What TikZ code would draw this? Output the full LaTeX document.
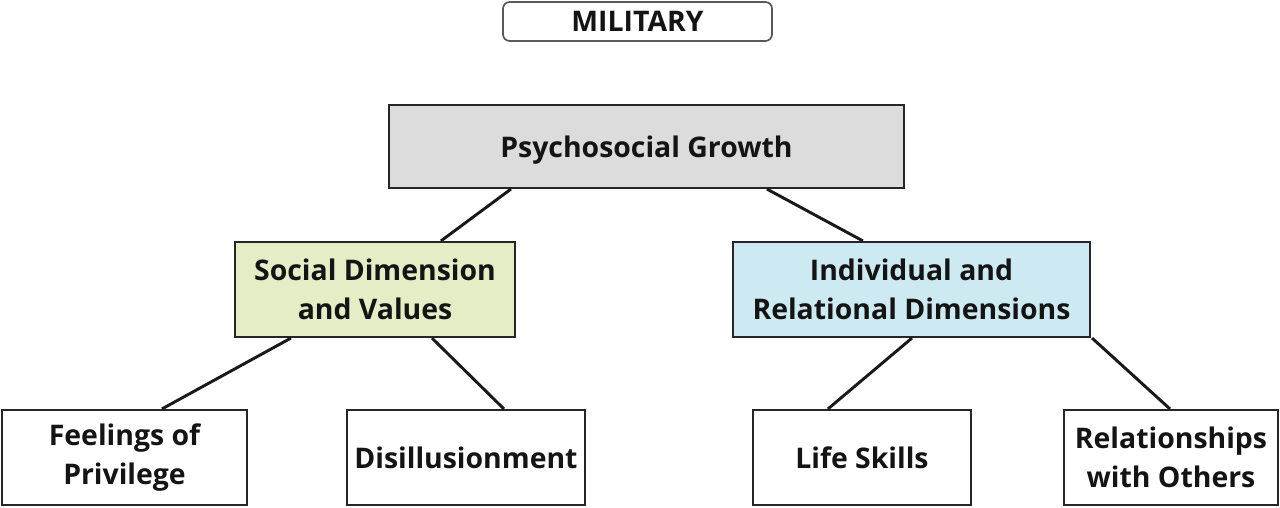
\documentclass[tikz,border=0pt]{standalone}
\usepackage{fontspec}
\setmainfont{Open Sans}
\usetikzlibrary{calc}
\definecolor{pggray}{HTML}{DCDCDD}
\definecolor{sdgreen}{HTML}{E4EDC6}
\definecolor{irblue}{HTML}{CDEAF3}
\definecolor{txt}{HTML}{141414}
\begin{document}
\begin{tikzpicture}[x=0.75pt,y=-0.75pt,
  box/.style={draw=black!85,line width=1.6pt,align=center,inner sep=0pt,
    font=\fontsize{21.3}{29.25}\selectfont\bfseries,text=txt,
    minimum height=71.25pt},
  conn/.style={draw=black!90,line width=2.2pt}]
\useasboundingbox (0,0) rectangle (1280,507);
\node[box,draw=black!65,line width=1.3pt,rounded corners=5pt,minimum width=201.75pt,minimum height=29.25pt] (mil) at (637.5,21.5) {MILITARY};
\node[box,fill=pggray,text depth=0pt,minimum width=386.25pt,minimum height=62.25pt] (pg) at (646.5,146.5) {Psychosocial Growth};
\node[box,fill=sdgreen,minimum width=210pt] (sd) at (375,289.5) {Social Dimension\\and Values};
\node[box,fill=irblue,minimum width=267.75pt] (ir) at (911.5,289.5) {Individual and\\Relational Dimensions};
\node[box,minimum width=183.75pt] (fp) at (124.5,457.5) {Feelings of\\Privilege};
\node[box,minimum width=178.5pt] (di) at (466,457.5) {Disillusionment};
\node[box,minimum width=163.5pt] (ls) at (862,457.5) {Life Skills};
\node[box,minimum width=160.5pt] (ro) at (1171,457.5) {Relationships\\with Others};
\draw[conn] ($(pg.south west)+(123,0)$) -- ($(sd.north west)+(207,0)$);
\draw[conn] ($(pg.south west)+(379,0)$) -- ($(ir.north west)+(131,0)$);
\draw[conn] ($(sd.south west)+(57,0)$) -- ($(fp.north west)+(161,0)$);
\draw[conn] ($(sd.south west)+(198,0)$) -- ($(di.north west)+(158,0)$);
\draw[conn] ($(ir.south west)+(180,0)$) -- ($(ls.north west)+(76,0)$);
\draw[conn] ($(ir.south east)+(1,0)$) -- ($(ro.north west)+(107,0)$);
\end{tikzpicture}
\end{document}
